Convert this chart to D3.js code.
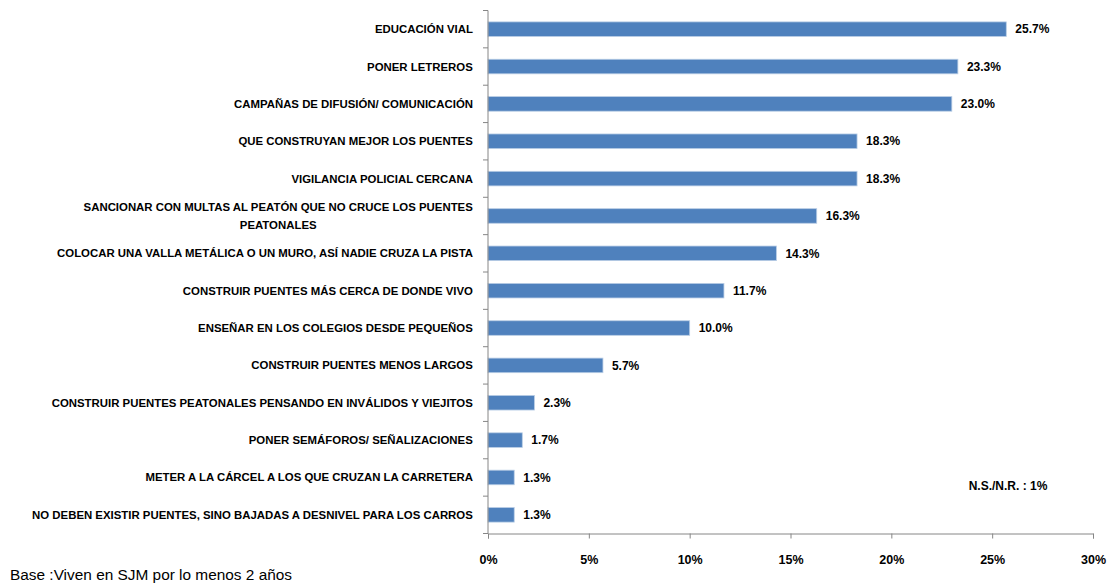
<!DOCTYPE html>
<html>
<head>
<meta charset="utf-8">
<script src="https://cdn.jsdelivr.net/npm/d3@7"></script>
<style>
  html, body { margin: 0; padding: 0; background: #fff; }
  svg text { font-family: "Liberation Sans", Arial, sans-serif; }
</style>
</head>
<body>
<svg id="chart" width="1110" height="584"></svg>
<script>
// Survey answers (one entry per line of label text) and their shares in percent
const categories = [
  ["EDUCACIÓN VIAL"],
  ["PONER LETREROS"],
  ["CAMPAÑAS DE DIFUSIÓN/ COMUNICACIÓN"],
  ["QUE CONSTRUYAN MEJOR LOS PUENTES"],
  ["VIGILANCIA POLICIAL CERCANA"],
  ["SANCIONAR CON MULTAS AL PEATÓN QUE NO CRUCE LOS PUENTES", "PEATONALES"],
  ["COLOCAR UNA VALLA METÁLICA O UN MURO, ASÍ NADIE CRUZA LA PISTA"],
  ["CONSTRUIR PUENTES MÁS CERCA DE DONDE VIVO"],
  ["ENSEÑAR EN LOS COLEGIOS DESDE PEQUEÑOS"],
  ["CONSTRUIR PUENTES MENOS LARGOS"],
  ["CONSTRUIR PUENTES PEATONALES PENSANDO EN INVÁLIDOS Y VIEJITOS"],
  ["PONER SEMÁFOROS/ SEÑALIZACIONES"],
  ["METER A LA CÁRCEL A LOS QUE CRUZAN LA CARRETERA"],
  ["NO DEBEN EXISTIR PUENTES, SINO BAJADAS A DESNIVEL PARA LOS CARROS"]
];
const values = [25.7, 23.3, 23.0, 18.3, 18.3, 16.3, 14.3, 11.7, 10.0, 5.7, 2.3, 1.7, 1.3, 1.3];
const xTicks = [0, 5, 10, 15, 20, 25, 30];
const noteText = "N.S./N.R. : 1%";
const baseText = "Base :Viven en SJM por lo menos 2 años";

const svg = d3.select("#chart");
const plotLeft = 488, plotRight = 1093, plotTop = 10.5, plotBottom = 533.5;

const x = d3.scaleLinear().domain([0, 30]).range([plotLeft, plotRight]);
const ids = d3.range(categories.length);
const y = d3.scaleBand().domain(ids).range([plotTop, plotBottom])
  .paddingInner(0.61).paddingOuter(0.305);

// Bars
svg.append("g").selectAll("rect").data(values).join("rect")
  .attr("x", x(0))
  .attr("y", (d, i) => y(i))
  .attr("width", d => x(d) - x(0))
  .attr("height", y.bandwidth())
  .attr("fill", "#4F81BD")
  .attr("stroke", "#B9CDE5")
  .attr("stroke-width", 0.8);

// Value labels
svg.append("g").selectAll("text").data(values).join("text")
  .attr("x", d => x(d) + 9)
  .attr("y", (d, i) => y(i) + y.bandwidth() / 2)
  .attr("dy", "0.35em")
  .attr("font-size", 12)
  .attr("font-weight", "bold")
  .attr("fill", "#000")
  .text(d => d.toFixed(1) + "%");

// Category axis: vertical line with ticks at band boundaries
const step = y.step();
const yAxis = svg.append("g");
yAxis.append("line")
  .attr("x1", plotLeft).attr("x2", plotLeft)
  .attr("y1", plotTop).attr("y2", plotBottom)
  .attr("stroke", "#868686");
yAxis.selectAll("line.tick").data(d3.range(categories.length + 1)).join("line")
  .attr("class", "tick")
  .attr("x1", plotLeft - 5).attr("x2", plotLeft)
  .attr("y1", i => plotTop + i * step).attr("y2", i => plotTop + i * step)
  .attr("stroke", "#868686");

// Category labels
const labels = svg.append("g").selectAll("text").data(categories).join("text")
  .attr("text-anchor", "middle")
  .attr("font-size", 11.4)
  .attr("font-weight", "bold")
  .attr("fill", "#000");
labels.each(function(lines, i) {
  const t = d3.select(this);
  const cy = y(i) + y.bandwidth() / 2;
  const lh = 18;
  lines.forEach((ln, k) => {
    t.append("tspan")
      .attr("x", 0)
      .attr("y", cy + (k - (lines.length - 1) / 2) * lh)
      .attr("dy", "0.35em")
      .text(ln);
  });
});
// Right-align each label block against the axis, centring wrapped lines
labels.each(function() {
  const t = d3.select(this);
  const w = this.getBBox().width;
  t.selectAll("tspan").attr("x", plotLeft - 15 - w / 2);
});

// Value axis
const xAxis = d3.axisBottom(x).tickValues(xTicks)
  .tickFormat(d => d + "%").tickSize(5).tickPadding(17);
const gx = svg.append("g").attr("transform", `translate(0,${plotBottom})`).call(xAxis);
gx.select(".domain").attr("stroke", "#868686");
gx.selectAll(".tick line").attr("stroke", "#868686");
gx.selectAll(".tick text")
  .attr("font-size", 12.5)
  .attr("font-weight", "bold")
  .attr("fill", "#000")
  .style("font-family", '"Liberation Sans", Arial, sans-serif');

// Non-response note
svg.append("text")
  .attr("x", 1008).attr("y", 486).attr("dy", "0.35em")
  .attr("text-anchor", "middle")
  .attr("font-size", 12)
  .attr("font-weight", "bold")
  .attr("fill", "#000")
  .text(noteText);

// Sample base footnote
svg.append("text")
  .attr("x", 10).attr("y", 575).attr("dy", "0.35em")
  .attr("font-size", 15.4)
  .attr("fill", "#000")
  .text(baseText);
</script>
</body>
</html>
